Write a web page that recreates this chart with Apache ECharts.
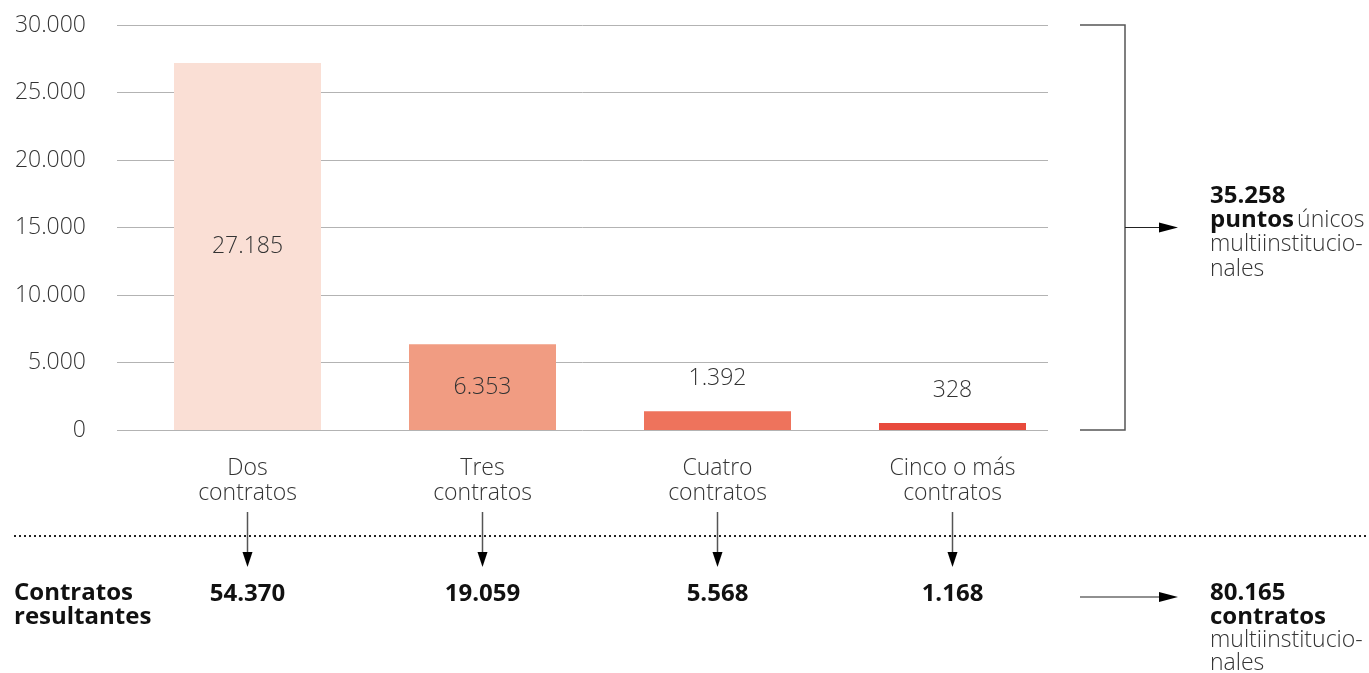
<!DOCTYPE html>
<html>
<head>
<meta charset="utf-8">
<script src="https://cdn.jsdelivr.net/npm/echarts@6/dist/echarts.min.js"></script>
<style>
  html, body { margin: 0; padding: 0; background: #fff; }
  #chart { width: 1369px; height: 673px; }
</style>
</head>
<body>
<div id="chart"></div>
<script>
// datos
const categorias = ['Dos\ncontratos', 'Tres\ncontratos', 'Cuatro\ncontratos', 'Cinco o más\ncontratos'];
const puntosUnicos = [27185, 6353, 1392, 328];
const contratosResultantes = [54370, 19059, 5568, 1168];
const coloresBarras = ['#FADFD5', '#F19C82', '#EE735C', '#E84A3C'];
const posEtiqueta = ['inside', 'inside', 'top', 'top'];
const yMin = 0, yMax = 30000, yPaso = 5000;

const FONT = '"Open Sans", "Noto Sans", sans-serif';

// separador de miles con punto
function fmt(n) {
  return String(n).replace(/\B(?=(\d{3})+(?!\d))/g, '.');
}

const totalPuntos = puntosUnicos.reduce((a, b) => a + b, 0);
const totalContratos = contratosResultantes.reduce((a, b) => a + b, 0);

const chart = echarts.init(document.getElementById('chart'));

const option = {
  animation: false,
  textStyle: { fontFamily: FONT },
  grid: [
    // rejilla para las líneas y las etiquetas del eje Y
    { left: 117, right: 321, top: 25, bottom: 243 },
    // rejilla de las barras
    { left: 130, right: 299, top: 25, bottom: 243 }
  ],
  xAxis: [
    { gridIndex: 0, type: 'category', data: categorias, show: false },
    {
      gridIndex: 1, type: 'category', data: categorias,
      axisLine: { show: false }, axisTick: { show: false },
      axisLabel: {
        margin: 26, fontSize: 23, lineHeight: 25, color: '#333',
        fontFamily: FONT, fontWeight: 300
      }
    }
  ],
  yAxis: [
    {
      gridIndex: 0, type: 'value', min: yMin, max: yMax, interval: yPaso,
      axisLine: { show: false }, axisTick: { show: false },
      splitLine: { lineStyle: { color: '#b3b3b3', width: 1 } },
      axisLabel: {
        margin: 31, fontSize: 23, color: '#333', fontFamily: FONT, fontWeight: 300,
        formatter: v => fmt(v)
      }
    },
    { gridIndex: 1, type: 'value', min: yMin, max: yMax, interval: yPaso, show: false }
  ],
  series: [{
    type: 'bar',
    xAxisIndex: 1, yAxisIndex: 1,
    barWidth: 147,
    barMinHeight: 7,
    data: puntosUnicos.map((v, i) => ({
      value: v,
      itemStyle: { color: coloresBarras[i] },
      label: { position: posEtiqueta[i] }
    })),
    label: {
      show: true, distance: 21, fontSize: 23, color: '#333',
      fontFamily: FONT, fontWeight: 300,
      formatter: p => fmt(p.value)
    }
  }]
};

chart.setOption(option);

// anotaciones: flechas, línea punteada, totales
function flechaAbajo(x, y1, y2) {
  return [
    { type: 'line', shape: { x1: x, y1: y1, x2: x, y2: y2 - 14 }, style: { stroke: '#555', lineWidth: 1.5 } },
    { type: 'polygon', shape: { points: [[x - 5, y2 - 15], [x + 5, y2 - 15], [x, y2]] }, style: { fill: '#000' } }
  ];
}
function flechaDerecha(x1, x2, y) {
  return [
    { type: 'line', shape: { x1: x1, y1: y, x2: x2 - 18, y2: y }, style: { stroke: '#222', lineWidth: 1.2 } },
    { type: 'polygon', shape: { points: [[x2 - 19, y - 5], [x2 - 19, y + 5], [x2, y]] }, style: { fill: '#000' } }
  ];
}

const top0 = chart.convertToPixel({ yAxisIndex: 0 }, yMax);
const base0 = chart.convertToPixel({ yAxisIndex: 0 }, yMin);
const mid = chart.convertToPixel({ yAxisIndex: 0 }, 15000);

const graphic = [];

// línea punteada
graphic.push({
  type: 'line', shape: { x1: 14, y1: 536, x2: 1369, y2: 536 },
  style: { stroke: '#222', lineWidth: 2, lineDash: [2, 3] }
});

categorias.forEach((c, i) => {
  const x = chart.convertToPixel({ xAxisIndex: 1 }, i);
  flechaAbajo(x, 512, 567).forEach(g => graphic.push(g));
  graphic.push({
    type: 'text', x: x, y: 594,
    style: {
      text: fmt(contratosResultantes[i]), fontSize: 24, fontWeight: 'bold',
      fontFamily: FONT, fill: '#111', align: 'center', verticalAlign: 'middle'
    }
  });
});

graphic.push({
  type: 'text', x: 14, y: 581,
  style: {
    text: 'Contratos\nresultantes', fontSize: 24, fontWeight: 'bold', lineHeight: 24,
    fontFamily: FONT, fill: '#111', align: 'left', verticalAlign: 'top'
  }
});

// corchete derecho
graphic.push({
  type: 'polyline',
  shape: { points: [[1080, top0], [1125, top0], [1125, base0], [1080, base0]] },
  style: { stroke: '#555', lineWidth: 1.5, fill: null }
});
flechaDerecha(1125, 1178, mid).forEach(g => graphic.push(g));

function estiloRico(lh) {
  return {
    b: { fontSize: 24, fontWeight: 'bold', fill: '#111', lineHeight: lh, fontFamily: FONT },
    l: { fontSize: 23, fontWeight: 300, fill: '#333', lineHeight: lh, fontFamily: FONT }
  };
}

graphic.push({
  type: 'text', x: 1210, y: 184,
  style: {
    text: '{b|' + fmt(totalPuntos) + '}\n{b|puntos} {l|únicos}\n{l|multiinstitucio-}\n{l|nales}',
    fontFamily: FONT, verticalAlign: 'top', align: 'left', rich: estiloRico(24.3)
  }
});

flechaDerecha(1080, 1178, 597).forEach(g => graphic.push(g));
graphic.push({
  type: 'text', x: 1210, y: 582,
  style: {
    text: '{b|' + fmt(totalContratos) + '}\n{b|contratos}\n{l|multiinstitucio-}\n{l|nales}',
    fontFamily: FONT, verticalAlign: 'top', align: 'left', rich: estiloRico(23.3)
  }
});

chart.setOption({ graphic: graphic });
</script>
</body>
</html>
